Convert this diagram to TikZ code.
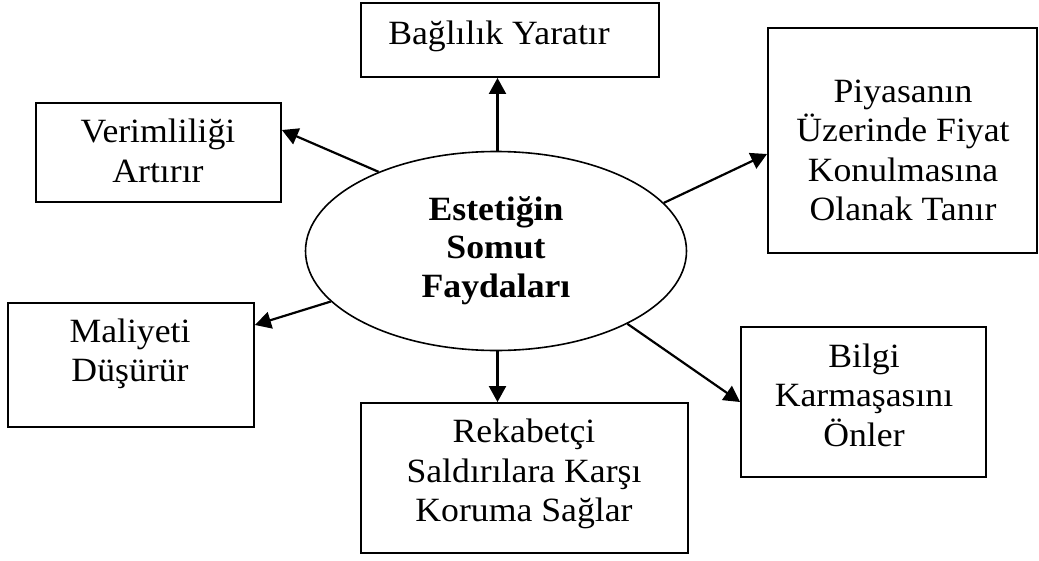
\documentclass[tikz,border=0pt]{standalone}
\usepackage{fontspec}
\setmainfont{Liberation Serif}[FakeStretch=1.05]
\usetikzlibrary{shapes.geometric,arrows.meta}

\begin{document}
\begin{tikzpicture}[x=1pt,y=-1pt,
  box/.style={draw, line width=1.9pt, inner sep=0pt},
  txt/.style={align=center, inner sep=0pt, font=\fontsize{34}{39.5}\selectfont},
  arr/.style={line width=2.2pt, -{Triangle[length=16pt,width=17pt]}}]
  \useasboundingbox (0,0) rectangle (1039,560);

  % central ellipse
  \node[ellipse, draw, line width=1.6pt, minimum width=381pt, minimum height=199pt, inner sep=0pt] (ell) at (496,251) {};
  \node[txt, font=\fontsize{34}{38.5}\selectfont\bfseries] (ellt) at (496,250.5) {Estetiğin\\Somut\\Faydaları};

  % surrounding boxes
  \node[box, minimum width=298pt, minimum height=74pt] (bag) at (510,40) {};
  \node[txt] (bagt) at (499,36) {Bağlılık Yaratır};

  \node[box, minimum width=245pt, minimum height=99pt] (verim) at (158.5,152.5) {};
  \node[txt] (verimt) at (158,151) {Verimliliği\\Artırır};

  \node[box, minimum width=269pt, minimum height=225pt] (piy) at (902.5,140.5) {};
  \node[txt] (piyt) at (903,150.5) {Piyasanın\\Üzerinde Fiyat\\Konulmasına\\Olanak Tanır};

  \node[box, minimum width=246pt, minimum height=124pt] (mal) at (131,365) {};
  \node[txt] (malt) at (130,354) {Maliyeti\\Düşürür};

  \node[box, minimum width=327pt, minimum height=150pt] (rek) at (524.5,478) {};
  \node[txt] (rekt) at (524,474) {Rekabetçi\\Saldırılara Karşı\\Koruma Sağlar};

  \node[box, minimum width=245pt, minimum height=150pt] (bilgi) at (863.5,402) {};
  \node[txt] (bilgit) at (864,395) {Bilgi\\Karmaşasını\\Önler};

  % connectors
  \draw[arr] ([xshift=1.5pt]ell.90) -- ([xshift=1.5pt]ell.90 |- bag.south);
  \draw[arr] (ell.146) -- ([yshift=22.5pt]verim.east);
  \draw[arr] (ell.16.7) -- ([yshift=-13.5pt]piy.west);
  \draw[arr] (ell.197.6) -- ([yshift=40pt]mal.east);
  \draw[arr] (ell.331) -- (bilgi.west);
  \draw[arr] ([xshift=1.5pt]ell.270) -- ([xshift=1.5pt]ell.270 |- rek.north);
\end{tikzpicture}
\end{document}
